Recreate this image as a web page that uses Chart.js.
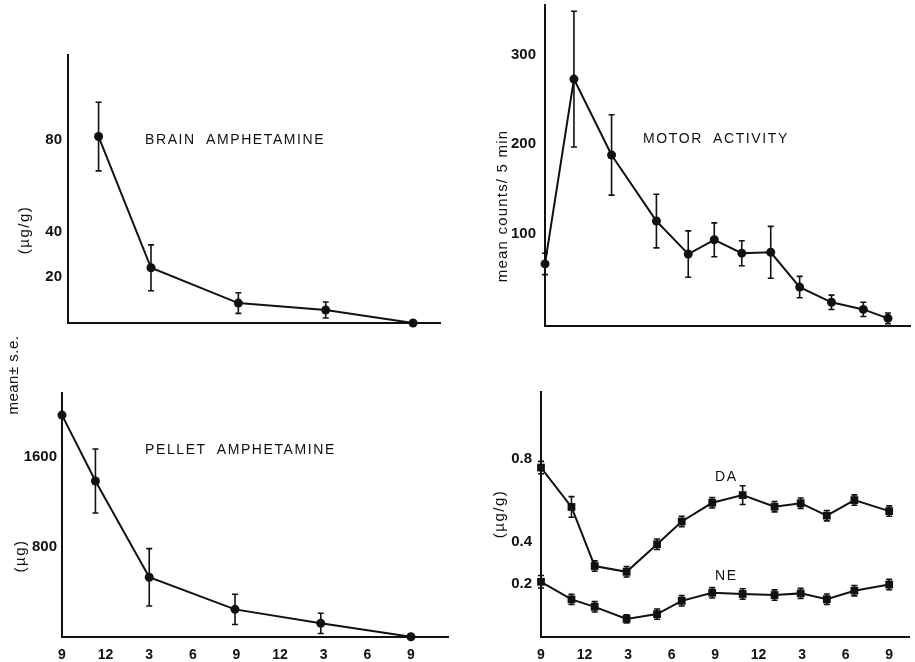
<!DOCTYPE html>
<html>
<head>
<meta charset="utf-8">
<script src="https://cdn.jsdelivr.net/npm/chart.js@4/dist/chart.umd.min.js"></script>
<style>
  html, body { margin: 0; padding: 0; background: #fff; }
  body { width: 915px; height: 662px; position: relative; overflow: hidden; font-family: "Liberation Sans", Arial, sans-serif; color: #111; }
  canvas { position: absolute; }
  .note { position: absolute; white-space: pre; font-size: 14px; letter-spacing: 1.6px; color: #111; transform: translateY(-50%); line-height: 1; }
  .rot { position: absolute; white-space: pre; font-size: 15px; color: #111; line-height: 1; transform: translate(-50%, -50%) rotate(-90deg); }
</style>
</head>
<body>
<canvas id="brain"></canvas>
<canvas id="motor"></canvas>
<canvas id="pellet"></canvas>
<canvas id="amine"></canvas>

<div class="note" style="left:145px; top:139px;">BRAIN  AMPHETAMINE</div>
<div class="note" style="left:643px; top:138px;">MOTOR  ACTIVITY</div>
<div class="note" style="left:145px; top:449px;">PELLET  AMPHETAMINE</div>
<div class="note" style="left:715px; top:476px;">DA</div>
<div class="note" style="left:715px; top:575px;">NE</div>

<div class="rot" style="left:23px; top:230px; letter-spacing:1.5px;">(µg/g)</div>
<div class="rot" style="left:12px; top:375px; letter-spacing:0.5px;">mean± s.e.</div>
<div class="rot" style="left:19px; top:556px; letter-spacing:1.5px;">(µg)</div>
<div class="rot" style="left:501px; top:206px; letter-spacing:1.2px;">mean counts/ 5 min</div>
<div class="rot" style="left:498px; top:514px; letter-spacing:1.5px;">(µg/g)</div>

<script>
// ---- x axis (hours after 9 a.m.) ----
const hourTicks = [0, 3, 6, 9, 12, 15, 18, 21, 24];
const tickLabels = ['9', '12', '3', '6', '9', '12', '3', '6', '9'];

// ---- Brain amphetamine (µg/g) ----
const brainHours = [2.4, 6, 12, 18, 24];
const brainValues = [81.4, 24.1, 8.7, 5.7, 0];
const brainErrors = [15, 10, 4.5, 3.5, 0];
const brainTicks = [20, 40, 80];

// ---- Motor activity (mean counts / 5 min) ----
const motorHours = [0, 2, 4.6, 7.7, 9.9, 11.7, 13.6, 15.6, 17.6, 19.8, 22, 23.7];
const motorValues = [66, 273, 188, 114, 77, 93, 78, 79, 40, 23, 15, 5];
const motorErrors = [12, 76, 45, 30, 26, 19, 14, 29, 12, 8, 8, 6];
const motorTicks = [100, 200, 300];

// ---- Pellet amphetamine (µg) ----
const pelletHours = [0, 2.3, 6, 11.9, 17.8, 24];
const pelletValues = [1970, 1384, 528, 243, 119, 0];
const pelletErrors = [0, 285, 255, 135, 90, 0];
const pelletTicks = [800, 1600];

// ---- DA / NE (µg/g) ----
const amineHours = [0, 2.1, 3.7, 5.9, 8, 9.7, 11.8, 13.9, 16.1, 17.9, 19.7, 21.6, 24];
const daValues = [0.76, 0.57, 0.285, 0.257, 0.39, 0.50, 0.59, 0.627, 0.571, 0.588, 0.528, 0.603, 0.55];
const daErrors = [0.03, 0.05, 0.025, 0.025, 0.025, 0.025, 0.025, 0.045, 0.025, 0.025, 0.025, 0.025, 0.025];
const neValues = [0.209, 0.124, 0.088, 0.030, 0.053, 0.117, 0.156, 0.150, 0.145, 0.153, 0.125, 0.166, 0.196];
const neErrors = [0.03, 0.025, 0.025, 0.02, 0.025, 0.025, 0.025, 0.025, 0.025, 0.025, 0.025, 0.025, 0.025];
const amineTicks = [0.2, 0.4, 0.8];

const INK = '#111';

const errorBars = {
  id: 'errorBars',
  afterDatasetsDraw(chart) {
    const ctx = chart.ctx;
    const ys = chart.scales.y;
    chart.data.datasets.forEach((ds, i) => {
      if (!ds.errors) return;
      const meta = chart.getDatasetMeta(i);
      meta.data.forEach((pt, j) => {
        const e = ds.errors[j];
        if (!e) return;
        const v = ds.data[j].y;
        const top = ys.getPixelForValue(v + e);
        const bot = ys.getPixelForValue(v - e);
        ctx.save();
        ctx.strokeStyle = INK;
        ctx.lineWidth = 1.6;
        ctx.beginPath();
        ctx.moveTo(pt.x, top); ctx.lineTo(pt.x, bot);
        ctx.moveTo(pt.x - 3, top); ctx.lineTo(pt.x + 3, top);
        ctx.moveTo(pt.x - 3, bot); ctx.lineTo(pt.x + 3, bot);
        ctx.stroke();
        ctx.restore();
      });
    });
  }
};

function series(hours, values, errors, style, radius) {
  return {
    data: hours.map((h, i) => ({ x: h, y: values[i] })),
    errors: errors,
    borderColor: INK,
    borderWidth: 2,
    backgroundColor: INK,
    pointBackgroundColor: INK,
    pointBorderWidth: 0,
    pointRadius: radius,
    pointStyle: style,
    tension: 0,
    clip: false
  };
}

function panel(id, box, yWidth, xHeight, padTop, padRight, yPad, xMin, xMax, yMin, yMax, yTicks, showX, datasets) {
  const cv = document.getElementById(id);
  cv.width = box.w; cv.height = box.h;
  cv.style.left = box.x + 'px'; cv.style.top = box.y + 'px';
  cv.style.width = box.w + 'px'; cv.style.height = box.h + 'px';
  const fam = '"Liberation Sans", Arial, sans-serif';
  return new Chart(cv, {
    type: 'line',
    data: { datasets: datasets },
    options: {
      responsive: false,
      animation: false,
      devicePixelRatio: 1,
      layout: { padding: { top: padTop, right: padRight, left: 0, bottom: 0 } },
      plugins: { legend: { display: false }, tooltip: { enabled: false } },
      scales: {
        x: {
          type: 'linear', min: xMin, max: xMax,
          afterBuildTicks: s => { s.ticks = hourTicks.map(v => ({ value: v })); },
          afterFit: s => { s.height = xHeight; s.paddingLeft = 0; s.paddingRight = 0; },
          grid: { display: false, drawTicks: false },
          border: { display: true, color: INK, width: 2 },
          ticks: {
            display: showX, color: INK, font: { family: fam, size: 14, weight: 'bold' }, padding: 10,
            autoSkip: false, maxRotation: 0,
            callback: v => { const k = hourTicks.indexOf(v); return k >= 0 ? tickLabels[k] : ''; }
          }
        },
        y: {
          type: 'linear', min: yMin, max: yMax,
          afterBuildTicks: s => { s.ticks = yTicks.map(v => ({ value: v })); },
          afterFit: s => { s.width = yWidth; s.paddingTop = 0; s.paddingBottom = 0; },
          grid: { display: false, drawTicks: false },
          border: { display: true, color: INK, width: 2 },
          ticks: { color: INK, font: { family: fam, size: 15, weight: 'bold' }, padding: yPad, callback: v => String(v) }
        }
      }
    },
    plugins: [errorBars]
  });
}

panel('brain', { x: 0, y: 45, w: 450, h: 300 }, 68, 22, 10, 10, 6, 0.3, 25.85, 0, 117, brainTicks, false,
  [series(brainHours, brainValues, brainErrors, 'circle', 4.5)]);

panel('motor', { x: 460, y: 0, w: 455, h: 345 }, 85, 19.5, 5, 0, 9, 0, 25.26, -3, 356, motorTicks, false,
  [series(motorHours, motorValues, motorErrors, 'circle', 4.5)]);

panel('pellet', { x: 0, y: 380, w: 460, h: 282 }, 62, 25.3, 12.7, 12, 5, 0, 26.55, 0, 2169, pelletTicks, true,
  [series(pelletHours, pelletValues, pelletErrors, 'circle', 4.5)]);

panel('amine', { x: 460, y: 380, w: 455, h: 282 }, 81, 25.3, 11.7, 2, 9, 0, 25.4, -0.056, 1.126, amineTicks, true,
  [series(amineHours, daValues, daErrors, 'rect', 5.5), series(amineHours, neValues, neErrors, 'rect', 5.5)]);
</script>
</body>
</html>
